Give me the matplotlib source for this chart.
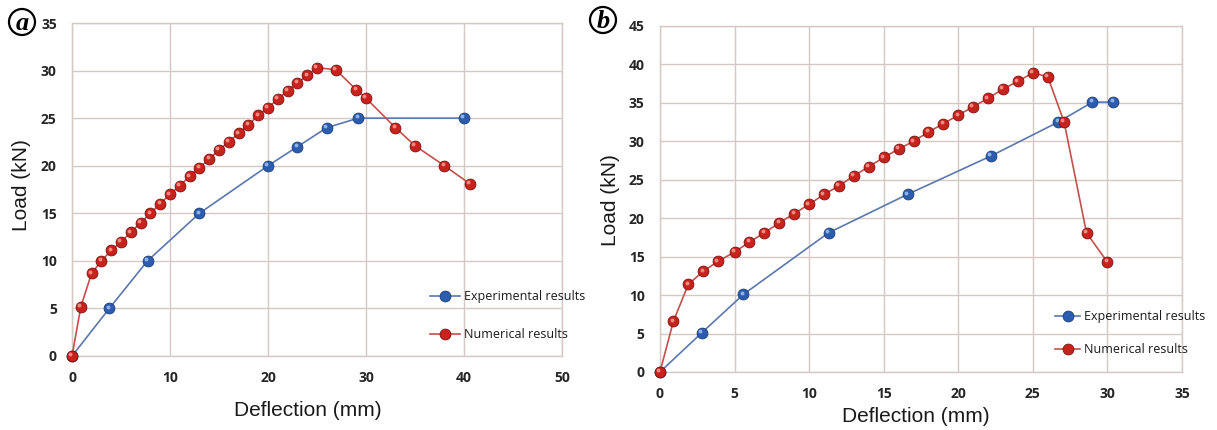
"""
Load-deflection curves, experimental vs numerical, for two specimens (a) and (b).
"""

import matplotlib
matplotlib.use('Agg')
import matplotlib.pyplot as plt
from matplotlib.patches import Ellipse
from matplotlib.transforms import ScaledTranslation

# panel (a)
exp_a_x = [0, 3.8, 7.7, 13, 20, 23, 26, 29.2, 40]
exp_a_y = [0, 5, 10, 15, 20, 22, 24, 25, 25]
num_a_x = [0, 0.9, 2.0, 3, 4, 5, 6, 7, 8, 9, 10, 11, 12, 13, 14, 15, 16, 17,
           18, 19, 20, 21, 22, 23, 24, 25, 26.9, 29, 30, 33, 35, 38, 40.6]
num_a_y = [0, 5.2, 8.7, 10, 11.1, 12, 13, 14, 15, 16, 17, 17.9, 18.9, 19.8,
           20.7, 21.7, 22.5, 23.4, 24.3, 25.3, 26.1, 27, 27.9, 28.7, 29.5,
           30.3, 30.1, 28, 27.1, 24, 22.1, 20, 18.1]

# panel (b)
exp_b_x = [0, 2.8, 5.6, 11.3, 16.6, 22.2, 26.7, 29, 30.4]
exp_b_y = [0, 5.1, 10.1, 18.1, 23.1, 28.1, 32.5, 35.1, 35.1]
num_b_x = [0, 0.9, 1.9, 2.9, 3.9, 5, 6, 7, 8, 9, 10, 11, 12, 13, 14, 15, 16,
           17, 18, 19, 20, 21, 22, 23, 24, 25, 26, 27.1, 28.6, 30]
num_b_y = [0, 6.6, 11.4, 13.1, 14.4, 15.6, 16.9, 18.1, 19.4, 20.6, 21.8, 23.1,
           24.2, 25.5, 26.7, 27.9, 29, 30, 31.2, 32.3, 33.4, 34.5, 35.6, 36.8,
           37.8, 38.9, 38.4, 32.5, 18.1, 14.3]

labels = ['Experimental results', 'Numerical results']
grid_col = '#d6c9c3'

fig = plt.figure(figsize=(12.17, 4.30), dpi=100)
ax_a = fig.add_axes([0.0592, 0.1721, 0.4026, 0.7744])
ax_b = fig.add_axes([0.5423, 0.1349, 0.4289, 0.8047])


def draw(ax, ex, ey, nx, ny, xmax, xstep, ymax, leg_xy, handlelen, spacing):
    hl = ScaledTranslation(-1.2 / 72, 1.2 / 72, fig.dpi_scale_trans)
    ax.plot(ex, ey, color='#5a78b0', lw=1.2, marker='o', ms=7.8,
            mfc='#2b5cae', mec='#1d3d7a', mew=0.6, label=labels[0], zorder=3)
    ax.plot(ex, ey, ls='none', marker='o', ms=2.8, mfc='#8fb0e8', mec='none',
            transform=ax.transData + hl, zorder=3)
    ax.plot(nx, ny, color='#c4504a', lw=1.2, marker='o', ms=7.8,
            mfc='#c8221c', mec='#7e1010', mew=0.6, label=labels[1], zorder=4)
    ax.plot(nx, ny, ls='none', marker='o', ms=2.8, mfc='#f08a80', mec='none',
            transform=ax.transData + hl, zorder=4)

    ax.set_xlim(0, xmax)
    ax.set_ylim(0, ymax)
    ax.set_xticks(range(0, xmax + 1, xstep))
    ax.set_yticks(range(0, ymax + 1, 5))
    ax.grid(True, color=grid_col, lw=1.0)
    ax.set_axisbelow(True)
    for sp in ax.spines.values():
        sp.set_color(grid_col)
        sp.set_linewidth(1.0)
    ax.tick_params(length=0, pad=11, labelcolor='#262626')
    for t in ax.get_xticklabels() + ax.get_yticklabels():
        t.set_fontfamily('Open Sans')
        t.set_fontweight('bold')
        t.set_fontsize(10)

    leg = ax.legend(loc='upper left', bbox_to_anchor=leg_xy, frameon=False,
                    borderpad=0, borderaxespad=0, handlelength=handlelen,
                    handletextpad=0.3, labelspacing=spacing,
                    prop={'family': 'Open Sans', 'size': 9})
    for t in leg.get_texts():
        t.set_color('#1a1a1a')


draw(ax_a, exp_a_x, exp_a_y, num_a_x, num_a_y, 50, 10, 35,
     (0.7306, 0.198), 2.4, 2.0)
draw(ax_b, exp_b_x, exp_b_y, num_b_x, num_b_y, 35, 5, 45,
     (0.757, 0.178), 2.0, 1.6)

for l in ax_a.lines + ax_b.lines:
    l.set_clip_on(False)

# axis titles
fig.text(308 / 1217, 1 - 410 / 430, 'Deflection (mm)', ha='center',
         va='center', fontsize=15, family='Liberation Sans', color='#1a1a1a')
fig.text(916 / 1217, 1 - 416 / 430, 'Deflection (mm)', ha='center',
         va='center', fontsize=15, family='Liberation Sans', color='#1a1a1a')
fig.text(22 / 1217, 1 - 185 / 430, 'Load (kN)', ha='center', va='center',
         rotation=90, fontsize=15, family='Liberation Sans', color='#1a1a1a')
fig.text(611 / 1217, 1 - 200 / 430, 'Load (kN)', ha='center', va='center',
         rotation=90, fontsize=15, family='Liberation Sans', color='#1a1a1a')

# circled panel letters
for letter, px, py in [('a', 22, 22), ('b', 603, 20)]:
    fig.patches.append(Ellipse((px / 1217, 1 - py / 430), 26 / 1217, 26 / 430,
                               transform=fig.transFigure, fc='white',
                               ec='black', lw=1.6))
    fig.text(px / 1217, 1 - (py + 1) / 430, letter, ha='center', va='center',
             fontsize=19, family='Liberation Serif', style='italic',
             weight='bold')

fig.savefig('out.png', dpi=100)
